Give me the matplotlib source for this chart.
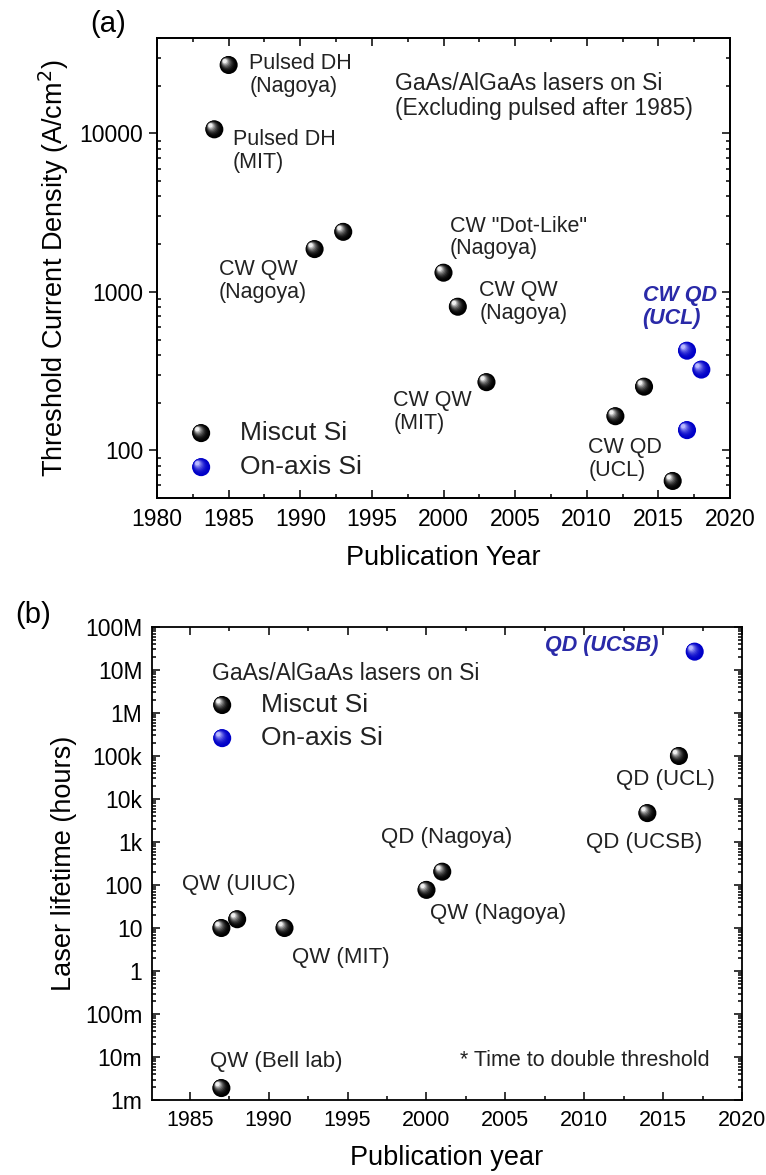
import numpy as np
import matplotlib
matplotlib.use("Agg")
import matplotlib.pyplot as plt
from matplotlib.transforms import offset_copy
from matplotlib.ticker import LogLocator, FixedLocator, FuncFormatter, MultipleLocator, NullFormatter

plt.rcParams['font.family'] = ['Liberation Sans', 'DejaVu Sans']

# ---- data: (a) threshold current density ----
a_miscut_year = [1985, 1984, 1991, 1993, 2000, 2001, 2003, 2012, 2014, 2016]
a_miscut_jth = [27000, 10600, 1860, 2390, 1320, 805, 269, 164, 252, 64]
a_onaxis_year = [2017, 2018, 2017]
a_onaxis_jth = [425, 323, 134]

a_notes = ["Pulsed DH\n(Nagoya)", "Pulsed DH\n(MIT)", "CW QW\n(Nagoya)", 'CW "Dot-Like"\n(Nagoya)',
           "CW QW\n(Nagoya)", "CW QW\n(MIT)", "CW QD\n(UCL)"]
a_note_x = [1986.45, 1985.3, 1984.3, 2000.45, 2002.5, 1996.5, 2010.1]
a_note_y = [23300, 7710, 1170, 2200, 865, 175, 88]
a_blue_note = "CW QD\n(UCL)"
a_blue_note_xy = (2013.9, 805)
a_title = "GaAs/AlGaAs lasers on Si\n(Excluding pulsed after 1985)"
a_title_xy = (1996.6, 17200)

# ---- data: (b) laser lifetime ----
b_miscut_year = [2016, 2014, 2001, 2000, 1987, 1988, 1991, 1987]
b_miscut_life = [1.0e5, 4.7e3, 204, 77, 10, 16, 10, 0.0019]
b_onaxis_year = [2017]
b_onaxis_life = [2.67e7]

b_notes = ["QD (UCL)", "QD (UCSB)", "QD (Nagoya)", "QW (UIUC)", "QW (Nagoya)", "QW (MIT)", "QW (Bell lab)"]
b_note_x = [2012.0, 2010.1, 1997.1, 1984.5, 2000.25, 1991.45, 1986.3]
b_note_y = [27700, 1000, 1240, 105, 22.3, 2.1, 0.0077]
b_blue_note = "QD (UCSB)"
b_blue_note_xy = (2007.5, 3.8e7)
b_title = "GaAs/AlGaAs lasers on Si"
b_title_xy = (1986.4, 8.5e6)
b_footnote = "* Time to double threshold"
b_footnote_xy = (2002.1, 0.0085)

b_ticks = [1e-3, 1e-2, 1e-1, 1, 10, 100, 1e3, 1e4, 1e5, 1e6, 1e7, 1e8]
b_ticklabels = ["1m", "10m", "100m", "1", "10", "100", "1k", "10k", "100k", "1M", "10M", "100M"]

legend_labels = ["Miscut Si", "On-axis Si"]

BLUE_TXT = "#2a2aa8"
TXT = "#222222"
black_shade = ("#000000", "#f0f0f0")
blue_shade = ("#0000c8", "#b8b8ff")


def spheres(ax, x, y, shade, size=13.0, transform=None, z=3):
    # glossy ball: stacked circles shifting toward upper-left
    fig = ax.figure
    base = transform if transform is not None else ax.transData
    dark = np.array(matplotlib.colors.to_rgb(shade[0]))
    light = np.array(matplotlib.colors.to_rgb(shade[1]))
    n = 10
    for i in range(n):
        f = 1 - i / n * 0.85
        t = (i / (n - 1)) ** 2.2
        c = dark * (1 - t) + light * t
        off = (1 - f) * size * 0.28
        tr = offset_copy(base, fig=fig, x=-off, y=off, units='points')
        ax.scatter(x, y, s=(size * f) ** 2, color=c, edgecolors='none', transform=tr,
                   zorder=z + i * 0.01, clip_on=False)


def style(ax, xsize=16.5, ysize=16.5):
    for s in ax.spines.values():
        s.set_linewidth(1.3)
    ax.tick_params(which='both', direction='in', top=True, right=True, width=1.1)
    ax.tick_params(which='major', length=6, pad=7)
    ax.tick_params(axis='x', labelsize=xsize)
    ax.tick_params(axis='y', labelsize=ysize)
    ax.tick_params(which='minor', length=3)


fig = plt.figure(figsize=(7.66, 11.75), dpi=100)

# ---------- (a) ----------
ax1 = fig.add_axes([0.2050, 0.5762, 0.7480, 0.3915])
ax1.set_yscale('log')
ax1.set_xlim(1980, 2020)
ax1.set_ylim(50, 40000)
ax1.xaxis.set_major_locator(MultipleLocator(5))
ax1.xaxis.set_minor_locator(MultipleLocator(2.5))
ax1.yaxis.set_major_locator(FixedLocator([100, 1000, 10000]))
ax1.yaxis.set_major_formatter(FuncFormatter(lambda v, p: f"{int(v)}"))
ax1.yaxis.set_minor_locator(LogLocator(base=10, subs=np.arange(2, 10)))
ax1.yaxis.set_minor_formatter(NullFormatter())
style(ax1)
# left major ticks point outward, right side stays inward
ax1.tick_params(axis='y', which='major', direction='out', right=False, pad=4)
ax1.tick_params(axis='y', which='minor', right=False)
ax1r = ax1.twinx()
ax1r.set_yscale('log')
ax1r.set_ylim(ax1.get_ylim())
ax1r.yaxis.set_major_locator(FixedLocator([100, 1000, 10000]))
ax1r.yaxis.set_minor_locator(LogLocator(base=10, subs=np.arange(2, 10)))
ax1r.tick_params(which='both', direction='in', labelright=False, width=1.1)
ax1r.tick_params(which='major', length=6)
ax1r.tick_params(which='minor', length=3)
ax1r.yaxis.set_minor_formatter(NullFormatter())
for s in ax1r.spines.values():
    s.set_linewidth(1.3)

ax1.set_xlabel("Publication Year", fontsize=19.5, labelpad=10)
ax1.set_ylabel("Threshold Current Density (A/cm$^2$)", fontsize=19.5, labelpad=6)

spheres(ax1, a_miscut_year, a_miscut_jth, black_shade)
spheres(ax1, a_onaxis_year, a_onaxis_jth, blue_shade)

for t, x, y in zip(a_notes, a_note_x, a_note_y):
    ax1.text(x, y, t, fontsize=15.5, va='center', ha='left', linespacing=1.1, color=TXT)
ax1.text(*a_blue_note_xy, a_blue_note, fontsize=15.5, va='center', ha='left', linespacing=1.1,
         color=BLUE_TXT, fontweight='bold', fontstyle='italic')
ax1.text(*a_title_xy, a_title, fontsize=16.5, va='center', ha='left', linespacing=1.1, color=TXT)

# legend (a)
for k, (lab, sh) in enumerate(zip(legend_labels, [black_shade, blue_shade])):
    ly = 0.141 - k * 0.074
    spheres(ax1, [0.077], [ly], sh, transform=ax1.transAxes)
    ax1.text(0.144, ly, lab, transform=ax1.transAxes, fontsize=19, va='center', ha='left', color=TXT)

fig.text(0.141, 0.980, "(a)", fontsize=21, ha='center', va='center')

# ---------- (b) ----------
ax2 = fig.add_axes([0.1984, 0.0638, 0.7703, 0.4026])
ax2.set_yscale('log')
ax2.set_xlim(1982.6, 2020)
ax2.set_ylim(1e-3, 1e8)
ax2.xaxis.set_major_locator(MultipleLocator(5))
ax2.xaxis.set_minor_locator(MultipleLocator(2.5))
ax2.yaxis.set_major_locator(FixedLocator(b_ticks))
ax2.yaxis.set_major_formatter(FuncFormatter(lambda v, p: b_ticklabels[b_ticks.index(v)] if v in b_ticks else ""))
ax2.yaxis.set_minor_locator(LogLocator(base=10, subs=np.arange(2, 10), numticks=30))
ax2.yaxis.set_minor_formatter(NullFormatter())
style(ax2, xsize=15.5, ysize=16.5)
ax2.set_xlabel("Publication year", fontsize=19.5, labelpad=10)
ax2.set_ylabel("Laser lifetime (hours)", fontsize=19.5, labelpad=6)

spheres(ax2, b_miscut_year, b_miscut_life, black_shade)
spheres(ax2, b_onaxis_year, b_onaxis_life, blue_shade)

for t, x, y in zip(b_notes, b_note_x, b_note_y):
    ax2.text(x, y, t, fontsize=16, va='center', ha='left', color=TXT)
ax2.text(*b_blue_note_xy, b_blue_note, fontsize=15.5, va='center', ha='left',
         color=BLUE_TXT, fontweight='bold', fontstyle='italic')
ax2.text(*b_title_xy, b_title, fontsize=16.5, va='center', ha='left', color=TXT)
ax2.text(*b_footnote_xy, b_footnote, fontsize=15.5, va='center', ha='left', color=TXT)

for k, (lab, sh) in enumerate(zip(legend_labels, [black_shade, blue_shade])):
    ly = 0.835 - k * 0.07
    spheres(ax2, [0.119], [ly], sh, transform=ax2.transAxes)
    ax2.text(0.185, ly, lab, transform=ax2.transAxes, fontsize=19, va='center', ha='left', color=TXT)

fig.text(0.043, 0.477, "(b)", fontsize=21, ha='center', va='center')

fig.savefig("out.png", dpi=100)
